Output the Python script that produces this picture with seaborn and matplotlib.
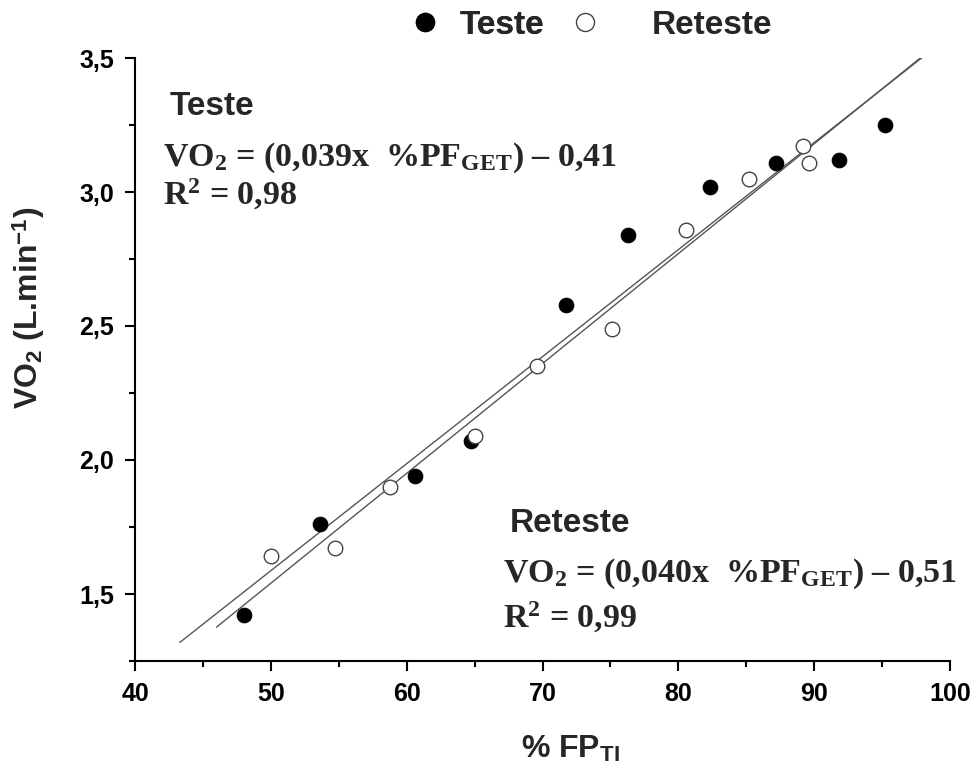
import numpy as np
import pandas as pd
import matplotlib
matplotlib.use("Agg")
import matplotlib.pyplot as plt
import seaborn as sns
from matplotlib.lines import Line2D
from matplotlib.ticker import MultipleLocator

# ---- data ----
teste_x = [48.0, 53.6, 60.6, 64.7, 71.7, 76.3, 82.3, 87.2, 91.8, 95.2]
teste_y = [1.42, 1.76, 1.94, 2.07, 2.58, 2.84, 3.02, 3.11, 3.12, 3.25]
reteste_x = [50.0, 54.7, 58.8, 65.0, 69.6, 75.1, 80.6, 85.2, 89.2, 89.6]
reteste_y = [1.64, 1.67, 1.90, 2.09, 2.35, 2.49, 2.86, 3.05, 3.17, 3.11]
teste_line_range = [43.3, 98.0]
reteste_line_range = [46.0, 98.0]
legend_labels = ["Teste", "Reteste"]

sns.set_theme(style="ticks")
plt.rcParams["font.family"] = ["Liberation Sans", "DejaVu Sans"]
plt.rcParams["mathtext.fontset"] = "custom"
plt.rcParams["mathtext.rm"] = "Liberation Serif:bold"
plt.rcParams["mathtext.it"] = "Liberation Serif:bold"
plt.rcParams["mathtext.bf"] = "Liberation Serif:bold"
plt.rcParams["mathtext.sf"] = "Liberation Sans:bold"

W, H = 976, 771
fig = plt.figure(figsize=(W / 100, H / 100), dpi=100)
ax = fig.add_axes([135 / W, 1 - 661 / H, (950 - 135) / W, (661 - 58) / H])

# regression lines
for xs, ys, rng in [(teste_x, teste_y, teste_line_range), (reteste_x, reteste_y, reteste_line_range)]:
    b, a = np.polyfit(xs, ys, 1)
    lx = np.array(rng)
    sns.lineplot(x=lx, y=a + b * lx, ax=ax, color="#555555", linewidth=1.0, zorder=2)

sns.scatterplot(x=teste_x, y=teste_y, ax=ax, s=110, color="black", edgecolor="black",
                linewidth=0.8, zorder=3)
sns.scatterplot(x=reteste_x, y=reteste_y, ax=ax, s=110, facecolor="white", edgecolor="#444444",
                linewidth=1.0, zorder=3)

ax.set_xlim(40, 100)
ax.set_ylim(1.25, 3.5)
ax.xaxis.set_major_locator(MultipleLocator(10))
ax.xaxis.set_minor_locator(MultipleLocator(5))
ax.yaxis.set_major_locator(MultipleLocator(0.5))
ax.yaxis.set_minor_locator(MultipleLocator(0.25))
sns.despine(ax=ax)
for sp in ["left", "bottom"]:
    ax.spines[sp].set_linewidth(1.5)
    ax.spines[sp].set_color("black")
ax.tick_params(which="major", direction="out", length=7, width=1.5, colors="black",
               labelsize=18, pad=8)
ax.tick_params(which="minor", direction="out", length=4, width=1.5, colors="black")
ax.set_yticks([1.5, 2.0, 2.5, 3.0, 3.5])
ax.set_yticklabels(["1,5", "2,0", "2,5", "3,0", "3,5"], fontweight="bold")
ax.set_xticks([40, 50, 60, 70, 80, 90, 100])
ax.set_xticklabels(["40", "50", "60", "70", "80", "90", "100"], fontweight="bold")

ax.set_xlabel(r"% FP$_\mathsf{TI}$", fontsize=23, fontweight="bold", va="top")
ax.xaxis.set_label_coords((570 - 135) / 815, -(734 - 661) / 603)
ax.set_ylabel(r"VO$_\mathsf{2}$ (L.min$^\mathsf{-1}$)", fontsize=23, fontweight="bold")
ax.yaxis.set_label_coords((47 - 135) / 815, 1 - (308 - 58) / 603)


def ftext(px, py, s, **kw):
    fig.text(px / W, 1 - py / H, s, va="baseline", ha="left", **kw)


serif = dict(family="Liberation Serif", fontweight="bold", fontsize=24.5)
ftext(170, 115, "Teste", fontsize=24, fontweight="bold")
ftext(163, 166, "VO$_2$ = (0,039x  %PF$_{GET}$) – 0,41", **serif)
ftext(163, 205, "R$^2$ = 0,98", **serif)
ftext(510, 532, "Reteste", fontsize=24, fontweight="bold")
ftext(503, 582, "VO$_2$ = (0,040x  %PF$_{GET}$) – 0,51", **serif)
ftext(503, 628, "R$^2$ = 0,99", **serif)

h_teste = Line2D([], [], linestyle="none", marker="o", markersize=13, markerfacecolor="black",
                 markeredgecolor="black")
h_reteste = Line2D([], [], linestyle="none", marker="o", markersize=13, markerfacecolor="white",
                   markeredgecolor="#444444", markeredgewidth=1.0)
leg_prop = {"family": "Liberation Sans", "weight": "bold", "size": 24}
fs_px = 24 * 100 / 72
leg1 = fig.legend([h_teste], [legend_labels[0]], loc="center left",
                  bbox_to_anchor=((425 - fs_px / 2) / W, 1 - 25 / H), frameon=False, prop=leg_prop,
                  handlelength=1.0, handletextpad=(35 - fs_px / 2) / fs_px, borderpad=0,
                  borderaxespad=0)
fig.add_artist(leg1)
fig.legend([h_reteste], [legend_labels[1]], loc="center left",
           bbox_to_anchor=((585 - fs_px / 2) / W, 1 - 25 / H), frameon=False, prop=leg_prop,
           handlelength=1.0, handletextpad=(67 - fs_px / 2) / fs_px, borderpad=0,
           borderaxespad=0)

fig.savefig("out.png", dpi=100)
